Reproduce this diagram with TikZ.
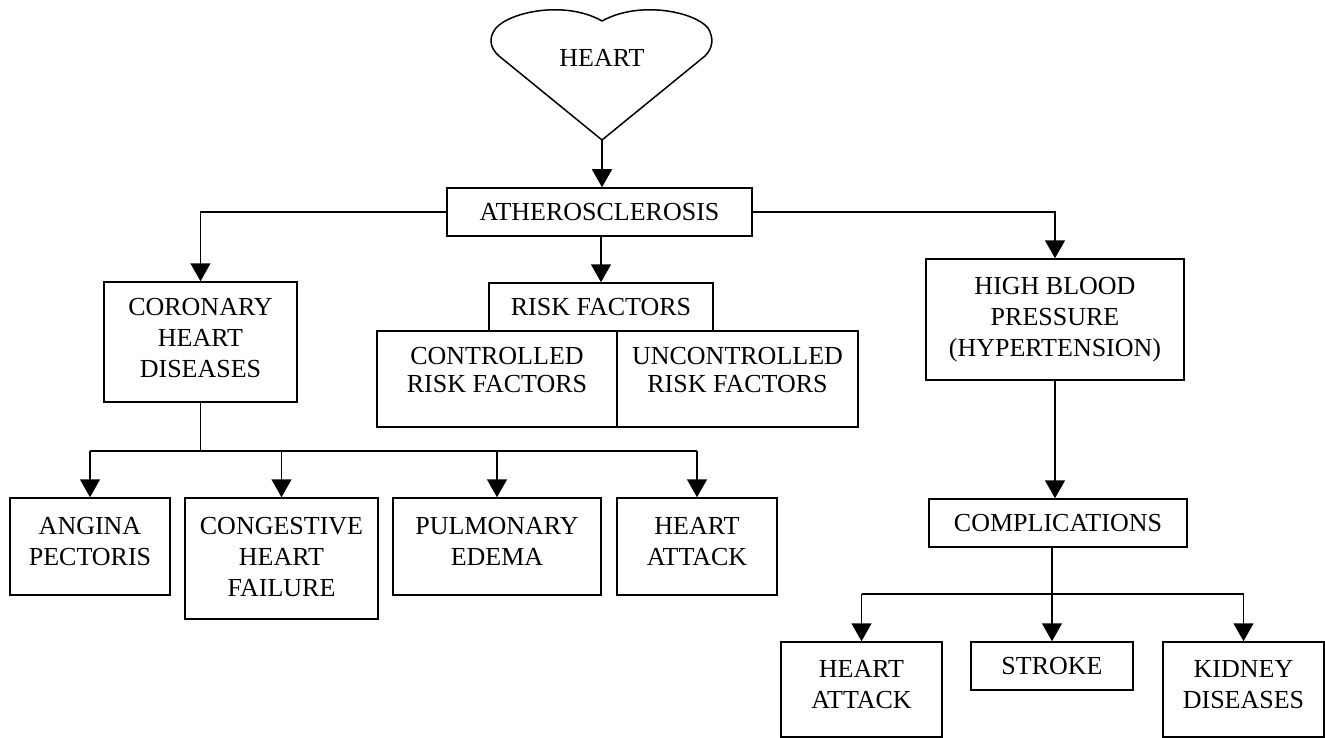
\documentclass[tikz,border=0pt]{standalone}
\usepackage{fontspec}
\setmainfont{Liberation Serif}
\usetikzlibrary{arrows.meta}
\begin{document}
\begin{tikzpicture}[x=1pt,y=-1pt,
  bx/.style={draw,line width=1.5pt,inner sep=0pt,align=center,
     font=\fontsize{26}{31}\selectfont},
  arr/.style={line width=1.5pt,-{Triangle[width=20pt,length=18pt]}},
  ln/.style={line width=1.5pt}]
\useasboundingbox (0,0) rectangle (1325,738);
% heart
\draw[line width=1.5pt,line join=round]
  (602,140) -- (499,56) .. controls (490,48) and (488,38) .. (496,28)
  .. controls (510,12) and (565,0) .. (602,21)
  .. controls (640,0) and (695,12) .. (708,28)
  .. controls (714,38) and (713,48) .. (705,56) -- cycle;
\coordinate (htip) at (602,140);
\node[font=\fontsize{26}{31}\selectfont] (heart) at (602,58) {HEART};
% boxes
\node[bx,minimum width=305pt,minimum height=48pt] (ath) at (599.5,212) {ATHEROSCLEROSIS};
\node[bx,minimum width=193pt,minimum height=120pt,text depth=8pt] (chd) at (200.5,342) {CORONARY\\HEART\\DISEASES};
\node[bx,minimum width=224pt,minimum height=48pt] (rf) at (601,307) {RISK FACTORS};
\node[bx,minimum width=240pt,minimum height=96pt,text depth=18pt,font=\fontsize{26}{28}\selectfont] (crf) at (497,379) {CONTROLLED\\RISK FACTORS};
\node[bx,minimum width=241pt,minimum height=96pt,text depth=18pt,font=\fontsize{26}{28}\selectfont] (ucrf) at (737.5,379) {UNCONTROLLED\\RISK FACTORS};
\node[bx,minimum width=258pt,minimum height=121pt] (hbp) at (1055,319.5) {HIGH BLOOD\\PRESSURE\\(HYPERTENSION)};
\node[bx,minimum width=258pt,minimum height=48pt] (comp) at (1058,523) {COMPLICATIONS};
\node[bx,minimum width=160pt,minimum height=97pt,text depth=10pt] (ang) at (90,546.5) {ANGINA\\PECTORIS};
\node[bx,minimum width=193pt,minimum height=121pt,text depth=3pt] (chf) at (281.5,558.5) {CONGESTIVE\\HEART\\FAILURE};
\node[bx,minimum width=208pt,minimum height=97pt,text depth=10pt] (pe) at (497,546.5) {PULMONARY\\EDEMA};
\node[bx,minimum width=160pt,minimum height=97pt,text depth=10pt] (ha1) at (697,546.5) {HEART\\ATTACK};
\node[bx,minimum width=161pt,minimum height=95pt,text depth=10pt] (ha2) at (861.5,689.5) {HEART\\ATTACK};
\node[bx,minimum width=162pt,minimum height=48pt] (stroke) at (1052,666) {STROKE};
\node[bx,minimum width=161pt,minimum height=95pt,text depth=10pt] (kid) at (1243.5,689.5) {KIDNEY\\DISEASES};
% connectors
\draw[arr] (htip) -- (htip |- ath.north);
\draw[arr] (ath.west) -| (chd.north);
\draw[arr] (rf.north |- ath.south) -- (rf.north);
\draw[arr] (ath.east) -| (hbp.north);
\coordinate (bus1) at (0,451);
\draw[ln] (chd.south) -- (chd.south |- bus1);
\draw[ln] (ang.north |- bus1) -- (ha1.north |- bus1);
\foreach \n in {ang,chf,pe,ha1} \draw[arr] (\n.north |- bus1) -- (\n.north);
\draw[arr] (hbp.south) -- (hbp.south |- comp.north);
\coordinate (bus2) at (0,594);
\draw[ln] (stroke.north |- comp.south) -- (stroke.north |- bus2);
\draw[ln] (ha2.north |- bus2) -- (kid.north |- bus2);
\foreach \n in {ha2,stroke,kid} \draw[arr] (\n.north |- bus2) -- (\n.north);
\end{tikzpicture}
\end{document}
